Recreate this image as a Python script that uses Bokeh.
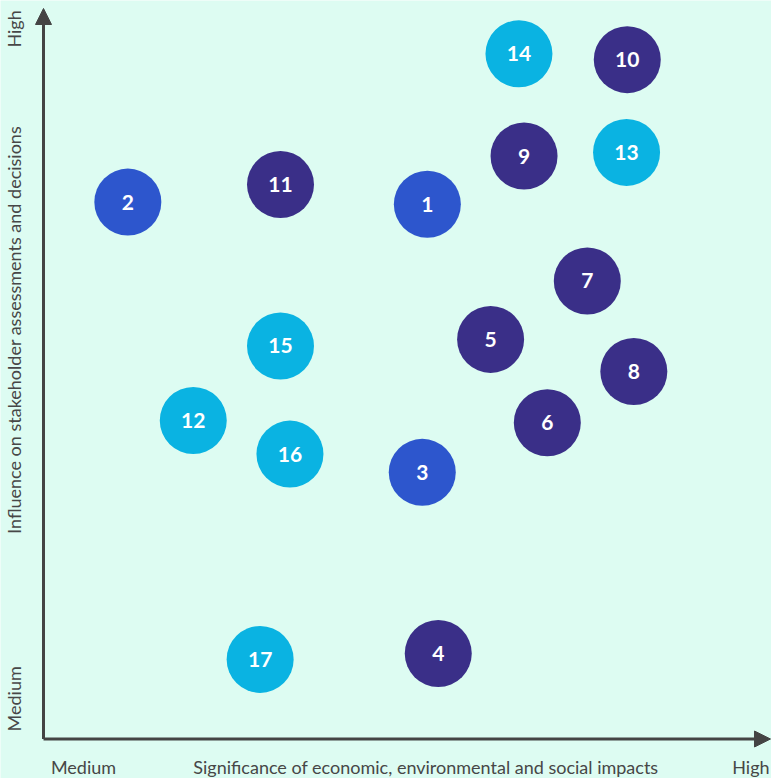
from bokeh.plotting import figure
from bokeh.models import ColumnDataSource, Range1d, Arrow, NormalHead, Label
from bokeh.core.properties import value
from bokeh.embed import file_html
from bokeh.resources import INLINE
import math

# Materiality matrix: topic number, impact significance (x), stakeholder influence (y)
topics = ["1", "2", "3", "4", "5", "6", "7", "8", "9", "10", "11", "12", "13", "14", "15", "16", "17"]
significance = [5.28, 1.16, 5.21, 5.43, 6.15, 6.93, 7.48, 8.12, 6.61, 8.03, 3.26, 2.06, 8.02, 6.54, 3.26, 3.39, 2.98]
influence = [7.32, 7.35, 3.65, 1.17, 5.47, 4.33, 6.27, 5.03, 7.98, 9.30, 7.59, 4.36, 8.03, 9.38, 5.38, 3.90, 1.09]
groups = ["governance", "governance", "governance", "social", "social", "social", "social", "social",
          "social", "social", "social", "environment", "environment", "environment", "environment",
          "environment", "environment"]

group_colors = {"governance": "#2D56CD", "social": "#3A2F88", "environment": "#0AB3E2"}

x_labels = ["Medium", "High"]
y_labels = ["Medium", "High"]
x_title = "Significance of economic, environmental and social impacts"
y_title = "Influence on stakeholder assessments and decisions"

BG = "#DDFCF2"
AXIS = "#444444"
TEXT = "#474747"
FONT = "Lato"

src = ColumnDataSource(dict(
    x=significance, y=influence, label=topics,
    color=[group_colors[g] for g in groups],
))

p = figure(width=771, height=778, output_backend="svg", toolbar_location=None,
           x_range=Range1d(-0.5915, 10.0138), y_range=Range1d(-0.5407, 10.1095),
           min_border=0, background_fill_color=BG, border_fill_color=BG)
p.axis.visible = False
p.grid.visible = False
p.outline_line_color = None

# axes drawn as arrows from the origin
p.add_layout(Arrow(x_start=0, y_start=0, x_end=0, y_end=10, line_color=AXIS, line_width=3,
                   end=NormalHead(size=16, fill_color=AXIS, line_color=AXIS, line_width=1)))
p.add_layout(Arrow(x_start=0, y_start=0, x_end=10, y_end=0, line_color=AXIS, line_width=3,
                   end=NormalHead(size=16, fill_color=AXIS, line_color=AXIS, line_width=1)))

p.scatter("x", "y", source=src, marker="circle", size=67, fill_color="color", line_color=None)
p.text("x", "y", text="label", source=src, text_color="white", text_font=value(FONT),
       text_font_style="bold", text_font_size="21px", text_align="center", text_baseline="middle")

# axis end labels and titles
for txt, x in [(x_labels[0], 0.55), (x_title, 5.26), (x_labels[1], 9.73)]:
    p.add_layout(Label(x=x, y=-0.39, text=txt, text_align="center", text_baseline="middle",
                       text_color=TEXT, text_font=FONT, text_font_size="18px"))
for txt, y in [(y_labels[0], 0.55), (y_title, 5.6), (y_labels[1], 9.72)]:
    p.add_layout(Label(x=-0.40, y=y, text=txt, angle=math.pi / 2, text_align="center",
                       text_baseline="middle", text_color=TEXT, text_font=FONT, text_font_size="18px"))

open("out.html", "w").write(file_html(p, INLINE))
